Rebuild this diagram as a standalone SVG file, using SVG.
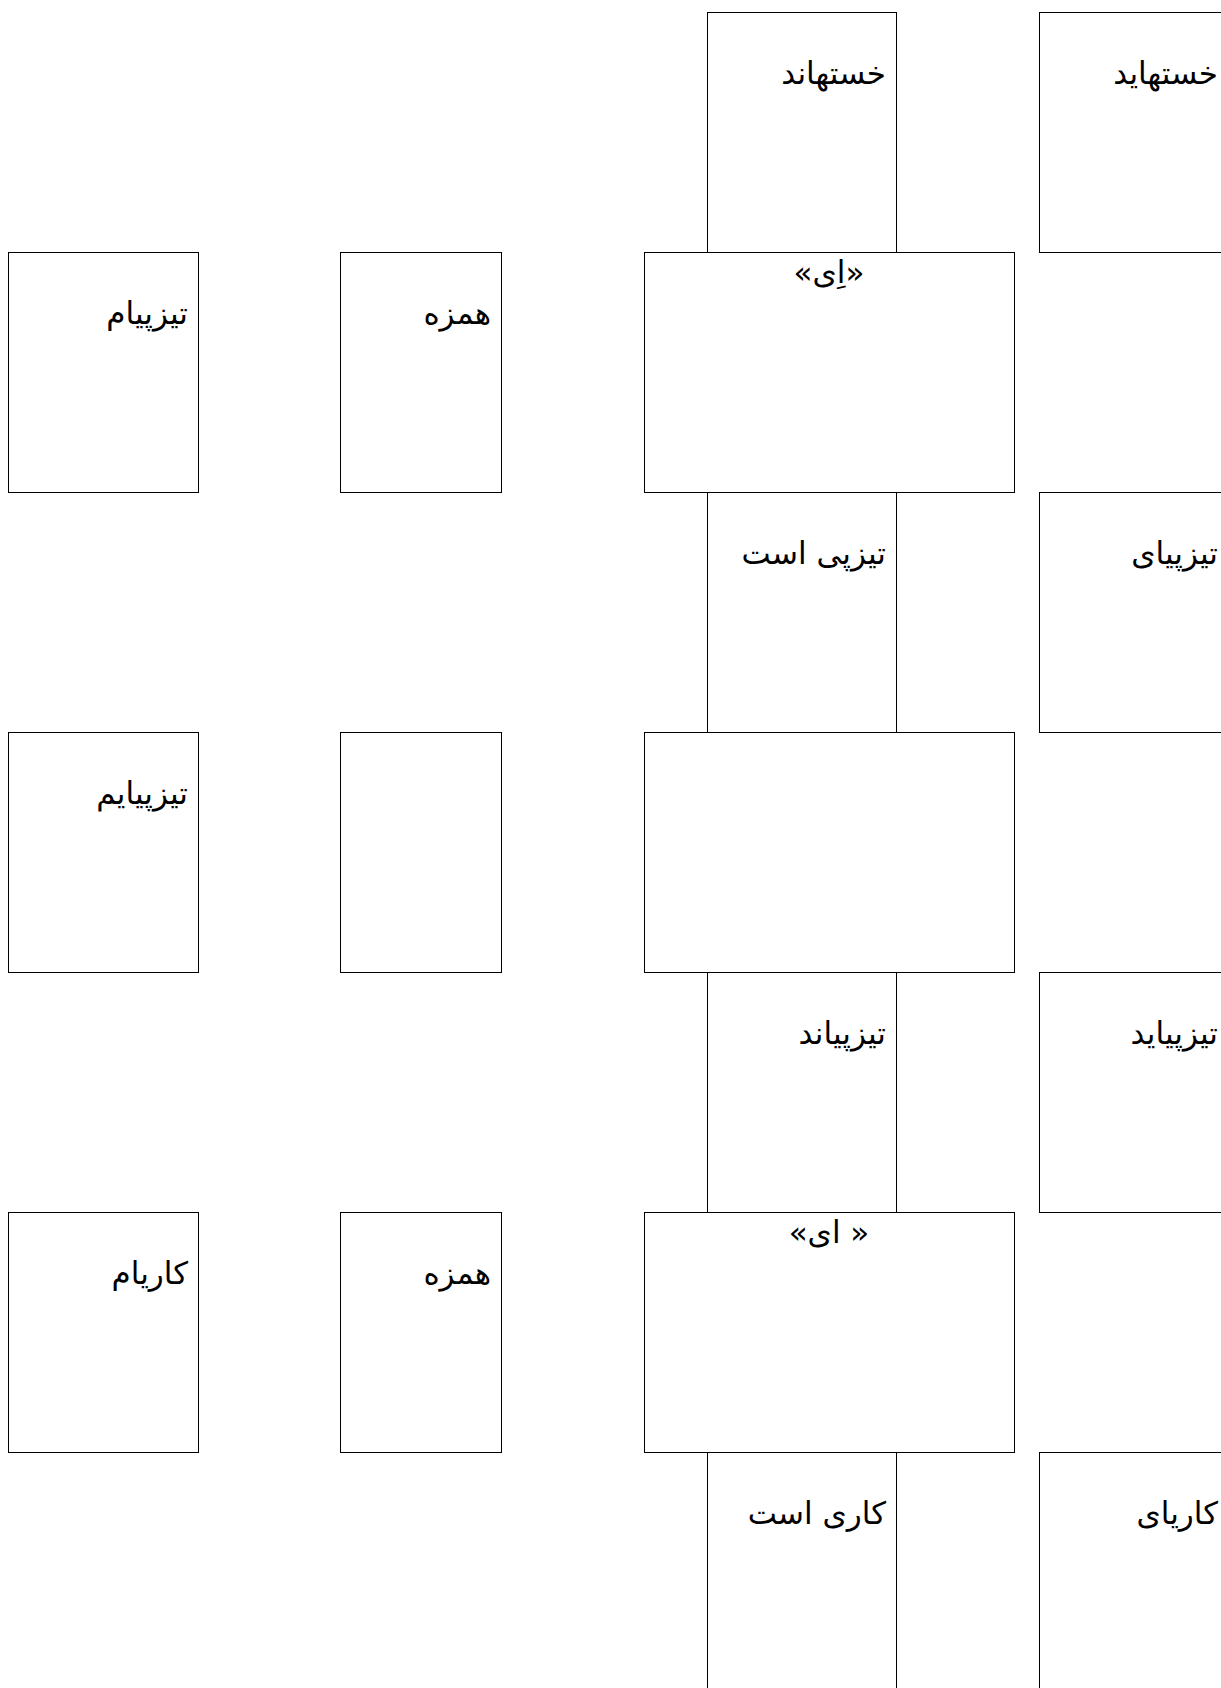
<svg xmlns="http://www.w3.org/2000/svg" width="1221" height="1688" viewBox="0 0 1221 1688">
<style>
rect.b{fill:#fff;stroke:#000;stroke-width:1}
text{font-family:"DejaVu Sans","Noto Sans",sans-serif;font-size:31px;fill:#000}
text.r{direction:rtl;text-anchor:start}
text.c{direction:rtl;text-anchor:middle}
</style>
<rect width="1221" height="1688" fill="#fff"/>
<g id="connectors"></g>
<g id="n-r0-d"><rect class="b" x="707.5" y="12.5" width="189" height="240"/><text class="r" direction="rtl" x="886" y="84">خستهاند</text></g>
<g id="n-r0-e"><rect class="b" x="1039.5" y="12.5" width="189" height="240"/><text class="r" direction="rtl" x="1218" y="84">خستهاید</text></g>
<g id="n-r1-a"><rect class="b" x="8.5" y="252.5" width="190" height="240"/><text class="r" direction="rtl" x="188" y="324">تیزپیام</text></g>
<g id="n-r1-b"><rect class="b" x="340.5" y="252.5" width="161" height="240"/><text class="r" direction="rtl" x="491" y="324">همزه</text></g>
<g id="n-r1-c"><rect class="b" x="644.5" y="252.5" width="370" height="240"/><text class="c" direction="rtl" x="829" y="283">«اِی»</text></g>
<g id="n-r2-d"><rect class="b" x="707.5" y="492.5" width="189" height="240"/><text class="r" direction="rtl" x="886" y="564">تیزپی است</text></g>
<g id="n-r2-e"><rect class="b" x="1039.5" y="492.5" width="189" height="240"/><text class="r" direction="rtl" x="1218" y="564">تیزپیای</text></g>
<g id="n-r3-a"><rect class="b" x="8.5" y="732.5" width="190" height="240"/><text class="r" direction="rtl" x="188" y="804">تیزپیایم</text></g>
<g id="n-r3-b"><rect class="b" x="340.5" y="732.5" width="161" height="240"/></g>
<g id="n-r3-c"><rect class="b" x="644.5" y="732.5" width="370" height="240"/></g>
<g id="n-r4-d"><rect class="b" x="707.5" y="972.5" width="189" height="240"/><text class="r" direction="rtl" x="886" y="1044">تیزپیاند</text></g>
<g id="n-r4-e"><rect class="b" x="1039.5" y="972.5" width="189" height="240"/><text class="r" direction="rtl" x="1218" y="1044">تیزپیاید</text></g>
<g id="n-r5-a"><rect class="b" x="8.5" y="1212.5" width="190" height="240"/><text class="r" direction="rtl" x="188" y="1284">کاریام</text></g>
<g id="n-r5-b"><rect class="b" x="340.5" y="1212.5" width="161" height="240"/><text class="r" direction="rtl" x="491" y="1284">همزه</text></g>
<g id="n-r5-c"><rect class="b" x="644.5" y="1212.5" width="370" height="240"/><text class="c" direction="rtl" x="829" y="1243">« ای»</text></g>
<g id="n-r6-d"><rect class="b" x="707.5" y="1452.5" width="189" height="240"/><text class="r" direction="rtl" x="886" y="1524">کاری است</text></g>
<g id="n-r6-e"><rect class="b" x="1039.5" y="1452.5" width="189" height="240"/><text class="r" direction="rtl" x="1218" y="1524">کاریای</text></g>
</svg>
